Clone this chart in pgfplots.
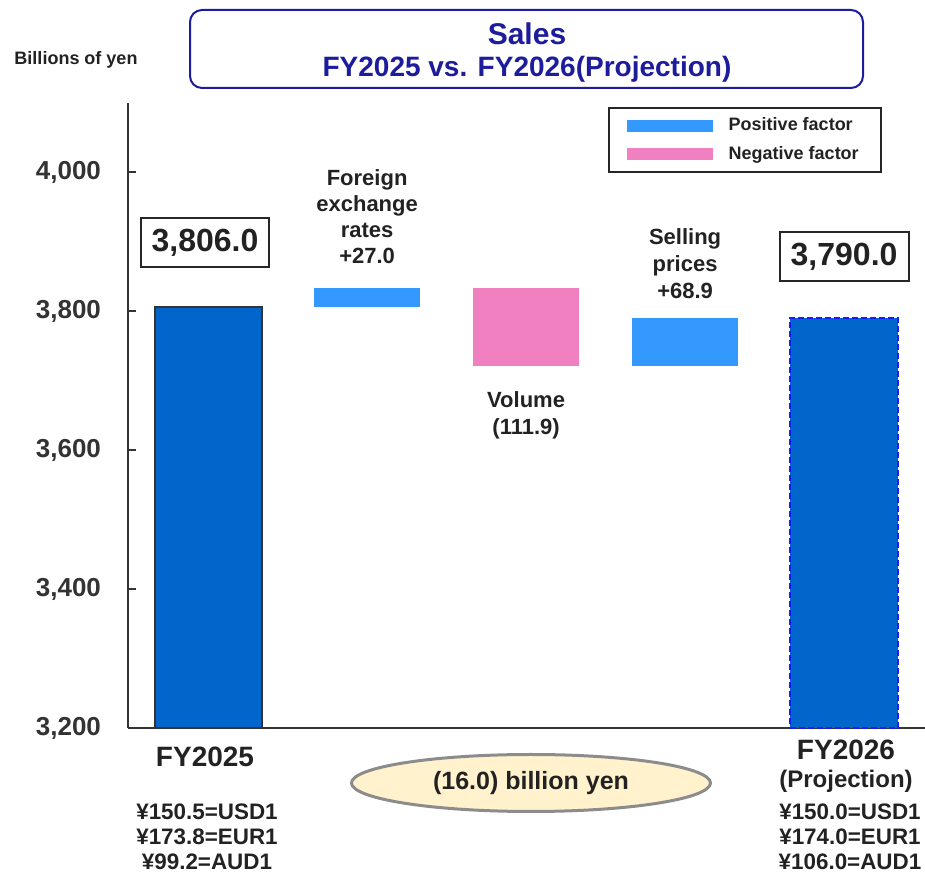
\documentclass[border=0pt]{standalone}
\usepackage{fontspec}
\setmainfont{Liberation Sans}
\usepackage{pgfplots}
\pgfplotsset{compat=1.18}
\usetikzlibrary{shapes.geometric}

\definecolor{fyblue}{HTML}{0066CC}
\definecolor{posblue}{HTML}{3399FF}
\definecolor{negpink}{HTML}{F080C0}
\definecolor{navytitle}{HTML}{1C1C9C}
\definecolor{dashblue}{HTML}{1A1AFF}
\definecolor{textc}{HTML}{222222}
\definecolor{ovalfill}{HTML}{FFF2CC}

\begin{document}
\begin{tikzpicture}
\begin{axis}[
    at={(0,0)}, anchor=south west,
    scale only axis,
    width=398.5pt, height=312.5pt,
    xmin=-0.504, xmax=4.509,
    ymin=3200, ymax=4100,
    axis x line*=bottom, axis y line*=left,
    axis line style={-, black!80, line width=1pt},
    xtick=\empty,
    ytick={3200,3400,3600,3800,4000},
    tick align=inside,
    major tick length=4pt,
    tick style={black!80, line width=1pt},
    /pgf/number format/1000 sep={,},
    /pgf/number format/assume math mode=true,
    yticklabel style={font=\bfseries\fontsize{13}{13}\selectfont, text=black!80, xshift=-10pt},
    clip=false,
    legend image code/.code={\fill[#1] (0pt,-3pt) rectangle (43pt,3pt);},
    legend style={at={(0.946,0.994)}, anchor=north east,
        draw=black!85, line width=1.2pt, fill=white,
        font=\bfseries\fontsize{9}{10}\selectfont, text=textc,
        inner xsep=9pt, inner ysep=3pt, row sep=2pt, column sep=6pt},
    legend cell align=left,
]
% FY2025 actual
\addplot[ybar, bar width=0.673, fill=fyblue, draw=black!80, line width=1pt, forget plot]
    coordinates {(0,3806.0)};
% Foreign exchange rates +27.0 (3806.0 -> 3833.0)
\addplot[fill=posblue, draw=none]
    coordinates {(0.665,3806.0) (1.335,3806.0) (1.335,3833.0) (0.665,3833.0)} -- cycle;
\addlegendentry{Positive factor}
% Volume -111.9 (3833.0 -> 3721.1)
\addplot[fill=negpink, draw=none]
    coordinates {(1.665,3721.1) (2.335,3721.1) (2.335,3833.0) (1.665,3833.0)} -- cycle;
\addlegendentry{Negative factor}
% Selling prices +68.9 (3721.1 -> 3790.0)
\addplot[fill=posblue, draw=none, forget plot]
    coordinates {(2.665,3721.1) (3.335,3721.1) (3.335,3790.0) (2.665,3790.0)} -- cycle;
% FY2026 projection
\addplot[ybar, bar width=0.68, fill=fyblue, draw=dashblue, line width=1pt,
    dash pattern=on 3pt off 1.5pt, forget plot]
    coordinates {(4,3790.0)};

% value boxes and factor labels
\node[draw=black!85, line width=1pt, minimum width=64pt, minimum height=24.5pt,
    font=\bfseries\fontsize{16}{16}\selectfont, text=textc] at (axis cs:-0.02,3899) {3,806.0};
\node[draw=black!85, line width=1pt, minimum width=64.5pt, minimum height=24.5pt,
    font=\bfseries\fontsize{16}{16}\selectfont, text=textc] at (axis cs:4,3879) {3,790.0};
\node[align=center, font=\bfseries\fontsize{11}{13}\selectfont, text=textc]
    at (axis cs:1,3936) {Foreign\\exchange\\rates\\+27.0};
\node[align=center, font=\bfseries\fontsize{11}{13.5}\selectfont, text=textc]
    at (axis cs:3,3869) {Selling\\prices\\+68.9};
\node[align=center, font=\bfseries\fontsize{11}{13.5}\selectfont, text=textc]
    at (axis cs:2,3650) {Volume\\(111.9)};
\end{axis}

% surrounding text, in reference pixel units
\begin{scope}[x=0.5pt, y=-0.5pt, shift={(-64pt,364pt)}]
  \draw[navytitle, line width=1pt, rounded corners=6pt] (190,10) rectangle (863,88);
  \node[font=\bfseries\fontsize{15}{15}\selectfont, text=navytitle] at (527,34) {Sales};
  \node[font=\bfseries\fontsize{14}{14}\selectfont, text=navytitle] at (527,69) {FY2025 vs. FY2026(Projection)};
  \node[font=\bfseries\fontsize{9}{9}\selectfont, text=textc] at (76,60) {Billions of yen};

  \node[font=\bfseries\fontsize{14}{14}\selectfont, text=textc] at (205,757) {FY2025};
  \node[font=\bfseries\fontsize{14}{14}\selectfont, text=textc] at (846,750) {FY2026};
  \node[font=\bfseries\fontsize{12}{12}\selectfont, text=textc] at (846,781) {(Projection)};
  \node[align=center, font=\bfseries\fontsize{11.2}{12.5}\selectfont, text=textc]
    at (207,837) {¥150.5=USD1\\¥173.8=EUR1\\¥99.2=AUD1};
  \node[align=center, font=\bfseries\fontsize{11.2}{12.5}\selectfont, text=textc]
    at (850,837) {¥150.0=USD1\\¥174.0=EUR1\\¥106.0=AUD1};

  \node[ellipse, draw=black!45, line width=1.5pt, fill=ovalfill,
    minimum width=179.5pt, minimum height=28.5pt,
    font=\bfseries\fontsize{12.5}{12.5}\selectfont, text=textc] at (531,783) {(16.0) billion yen};

  \pgfresetboundingbox
  \path[use as bounding box] (0,0) rectangle (925,881);
\end{scope}
\end{tikzpicture}
\end{document}
